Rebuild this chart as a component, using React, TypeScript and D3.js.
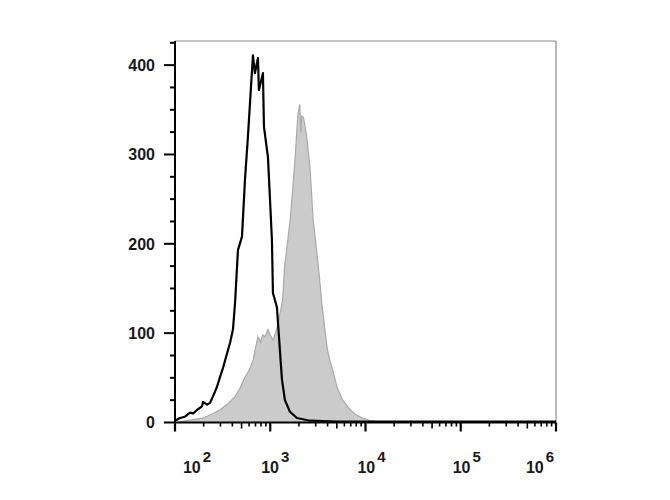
import React, { useRef, useEffect } from 'react';
import * as d3 from 'd3';

// fluorescence intensity (x) and event count (y)
const controlX = [100, 113, 127, 144, 155, 170, 192, 197, 217, 233, 250, 276, 297, 319, 351, 378, 406, 427, 458, 505, 543, 583, 658, 690, 743, 760, 838, 859, 946, 1042, 1067, 1175, 1327, 1426, 1611, 1905, 2612, 5000, 10000, 1e6];
const controlY = [2, 5, 6.5, 11, 10, 14, 18, 23, 20, 22, 29, 40, 51, 61, 77, 89, 104, 134, 193, 208, 272, 320, 411, 391, 408, 372, 391, 331, 297, 204, 145, 129, 48, 25, 12, 5, 2, 1, 1, 1];

const stainedX = [112, 150, 195, 240, 295, 360, 427, 480, 543, 600, 661, 741, 790, 832, 880, 946, 1000, 1072, 1202, 1349, 1413, 1622, 1820, 1950, 2042, 2090, 2138, 2239, 2399, 2612, 2818, 3090, 3300, 3467, 3936, 4200, 4436, 5012, 5754, 6918, 8128, 9333, 11220, 14125, 25000, 1e6];
const stainedY = [1, 3, 5, 9, 14, 21, 29, 38, 51, 58, 70, 96, 90, 98, 96, 104, 98, 92, 109, 137, 174, 227, 294, 345, 356, 325, 343, 341, 322, 286, 227, 190, 160, 134, 85, 70, 62, 40, 25, 14, 8, 5, 2, 0.5, 0, 0];

const yTicks = [0, 100, 200, 300, 400];
const xDecades = [2, 3, 4, 5, 6];

const App: React.FC = () => {
    const ref = useRef<SVGSVGElement>(null);

    useEffect(() => {
        const svg = d3.select(ref.current);
        svg.selectAll("*").remove();

        const x = d3.scaleLog().domain([100, 1e6]).range([175, 556]);
        const y = d3.scaleLinear().domain([0, 427]).range([422.5, 41]);

        const stained = stainedX.map((v, i) => [v, stainedY[i]] as [number, number]);
        const control = controlX.map((v, i) => [v, controlY[i]] as [number, number]);

        // frame top / right
        svg.append("line")
            .attr("x1", x(100)).attr("x2", x(1e6))
            .attr("y1", y(427)).attr("y2", y(427))
            .attr("stroke", "#8a8a8a").attr("stroke-width", 1.2);
        svg.append("line")
            .attr("x1", x(1e6)).attr("x2", x(1e6))
            .attr("y1", y(427)).attr("y2", y(0))
            .attr("stroke", "#8a8a8a").attr("stroke-width", 1.2);

        // stained histogram (gray filled)
        const area = d3.area<[number, number]>()
            .x(d => x(d[0]))
            .y0(y(0))
            .y1(d => y(d[1]));
        svg.append("path")
            .datum(stained)
            .attr("d", area)
            .attr("fill", "#cbcbcb")
            .attr("stroke", "#a9a9a9")
            .attr("stroke-width", 1.2);

        // control histogram (black line)
        const line = d3.line<[number, number]>()
            .x(d => x(d[0]))
            .y(d => y(d[1]));
        svg.append("path")
            .datum(control)
            .attr("d", line)
            .attr("fill", "none")
            .attr("stroke", "#000")
            .attr("stroke-width", 2.2)
            .attr("stroke-linejoin", "round");

        // y axis
        svg.append("line")
            .attr("x1", x(100)).attr("x2", x(100))
            .attr("y1", y(427)).attr("y2", y(0))
            .attr("stroke", "#000").attr("stroke-width", 2);
        d3.range(0, 426, 25).forEach(v => {
            const major = v % 100 === 0;
            svg.append("line")
                .attr("x1", x(100) - (major ? 11 : 5)).attr("x2", x(100))
                .attr("y1", y(v)).attr("y2", y(v))
                .attr("stroke", "#000").attr("stroke-width", 2);
        });
        svg.append("g")
            .selectAll("text")
            .data(yTicks).enter()
            .append("text")
            .attr("x", 155)
            .attr("y", d => y(d))
            .attr("dy", "0.36em")
            .attr("text-anchor", "end")
            .style("font-family", "Liberation Sans, Arial, sans-serif")
            .style("font-size", "16px")
            .style("font-weight", "bold")
            .attr("fill", "#1a1a1a")
            .text(d => d);

        // x axis
        svg.append("line")
            .attr("x1", x(100)).attr("x2", x(1e6))
            .attr("y1", y(0)).attr("y2", y(0))
            .attr("stroke", "#000").attr("stroke-width", 2.2);
        xDecades.forEach(e => {
            const base = Math.pow(10, e);
            svg.append("line")
                .attr("x1", x(base)).attr("x2", x(base))
                .attr("y1", y(0)).attr("y2", y(0) + 9)
                .attr("stroke", "#000").attr("stroke-width", 2.2);
            if (e < 6) {
                d3.range(2, 10).forEach(m => {
                    const len = m === 5 ? 6 : 4;
                    svg.append("line")
                        .attr("x1", x(base * m)).attr("x2", x(base * m))
                        .attr("y1", y(0)).attr("y2", y(0) + len)
                        .attr("stroke", "#000").attr("stroke-width", 1.6);
                });
            }
        });

        const labelShift: Record<number, number> = { 2: 22, 3: 5, 4: 6, 5: 6, 6: -16 };
        const lbl = svg.append("g")
            .selectAll("text")
            .data(xDecades).enter()
            .append("text")
            .attr("x", d => x(Math.pow(10, d)) + labelShift[d])
            .attr("y", 473)
            .attr("text-anchor", "middle")
            .style("font-family", "Liberation Sans, Arial, sans-serif")
            .style("font-size", "16px")
            .style("font-weight", "bold")
            .attr("fill", "#1a1a1a");
        lbl.append("tspan").text("10");
        lbl.append("tspan")
            .attr("dy", -11)
            .attr("dx", 2)
            .style("font-size", "15px")
            .text(d => d);
    }, []);

    return (
        <svg ref={ref} width={670} height={500}
            style={{ position: "absolute", left: 0, top: 0, background: "#fff" }} />
    );
};

export default App;
